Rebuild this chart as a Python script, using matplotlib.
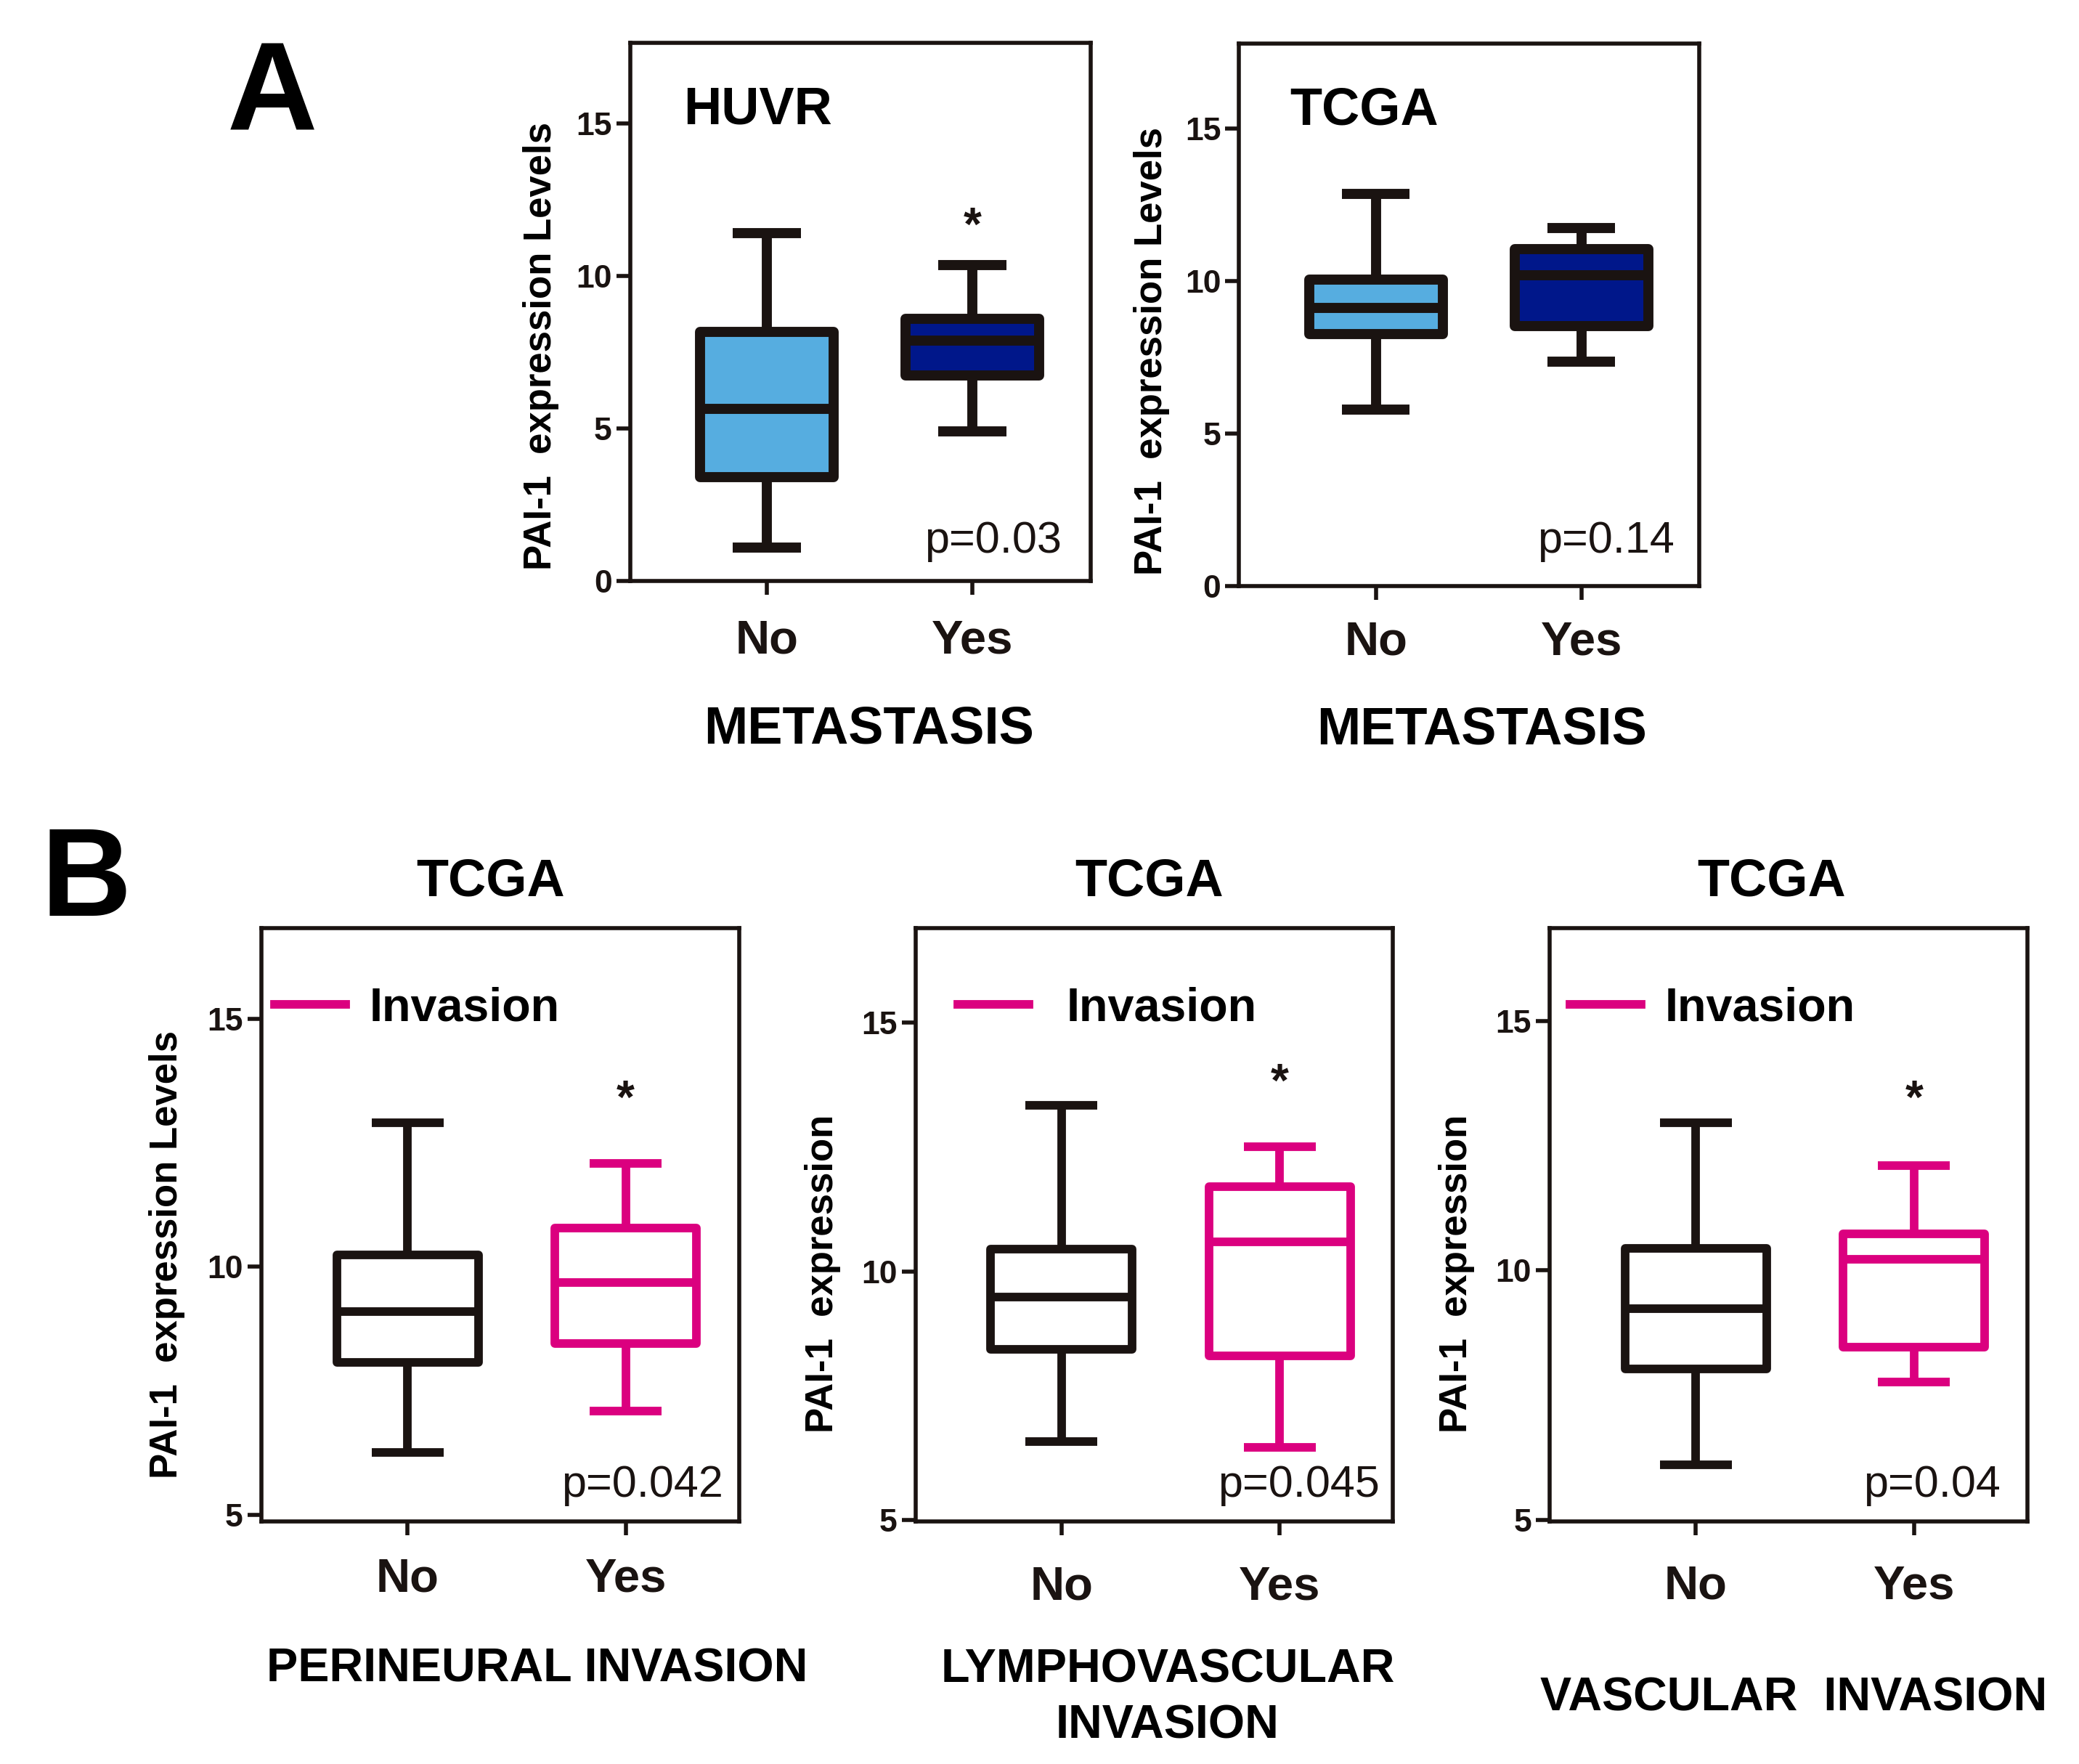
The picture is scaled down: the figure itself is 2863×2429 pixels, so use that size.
import matplotlib
matplotlib.use("Agg")
import matplotlib.pyplot as plt
from matplotlib.lines import Line2D

plt.rcParams['font.family'] = ['Liberation Sans', 'DejaVu Sans']

# five-number summaries: [whisker low, Q1, median, Q3, whisker high]
groups = ['No', 'Yes']

huvr_no = [1.1, 3.4, 5.65, 8.17, 11.4]
huvr_yes = [4.9, 6.74, 7.87, 8.6, 10.35]

tcga_met_no = [5.78, 8.26, 9.13, 10.04, 12.87]
tcga_met_yes = [7.35, 8.52, 10.2, 11.04, 11.74]

perineural_no = [6.26, 8.07, 9.09, 10.24, 12.91]
perineural_yes = [7.09, 8.45, 9.68, 10.78, 12.09]

lymphovascular_no = [6.58, 8.43, 9.48, 10.44, 13.34]
lymphovascular_yes = [6.45, 8.3, 10.6, 11.7, 12.5]

vascular_no = [6.1, 8.03, 9.24, 10.44, 12.96]
vascular_yes = [7.76, 8.46, 10.23, 10.74, 12.1]

p_values = ['p=0.03', 'p=0.14', 'p=0.042', 'p=0.045', 'p=0.04']
star_heights = [11.57, None, 13.35, 13.76, 13.4]

BLACK = '#1a1311'
LIGHT_BLUE = '#56ade0'
DARK_BLUE = '#00178a'
MAGENTA = '#db007f'


def to_stats(summary):
    lo, q1, med, q3, hi = summary
    return dict(whislo=lo, q1=q1, med=med, q3=q3, whishi=hi, fliers=[])


def draw_boxes(ax, summaries, faces, edges, lw):
    bp = ax.bxp([to_stats(s) for s in summaries], positions=[1, 2],
                widths=0.65, capwidths=0.33, patch_artist=True,
                showfliers=False, manage_ticks=False)
    for i, box in enumerate(bp['boxes']):
        box.set_facecolor(faces[i])
        box.set_edgecolor(edges[i])
        box.set_linewidth(lw)
        box.set_joinstyle('round')
        box.set_zorder(3)
        bp['medians'][i].set(color=edges[i], linewidth=lw, solid_capstyle='butt', zorder=4)
        for ln in bp['whiskers'][2 * i:2 * i + 2] + bp['caps'][2 * i:2 * i + 2]:
            ln.set(color=edges[i], linewidth=lw, solid_capstyle='butt', zorder=2)


def style_axes(ax, ylim, yticks, ylabel, ylabel_pos, xpad=18):
    ax.set_xlim(0.33, 2.55)
    ax.set_ylim(*ylim)
    ax.set_yticks(yticks)
    ax.set_xticks([1, 2])
    ax.set_xticklabels(groups, fontsize=47, fontweight='bold')
    for lab in ax.get_yticklabels():
        lab.set_fontsize(32)
        lab.set_fontweight('bold')
    for sp in ax.spines.values():
        sp.set_linewidth(4)
        sp.set_color(BLACK)
    ax.tick_params(axis='y', length=14, width=4, pad=4, colors=BLACK)
    ax.tick_params(axis='x', length=14, width=4, pad=xpad, colors=BLACK)
    ax.set_ylabel(ylabel, fontsize=38, fontweight='bold', va='center')
    ax.yaxis.set_label_coords(*ylabel_pos)


fig = plt.figure(figsize=(28.63, 24.29), dpi=100)

# ---------------- panel A ----------------
ax1 = fig.add_axes([0.3031, 0.6707, 0.2214, 0.3052])
draw_boxes(ax1, [huvr_no, huvr_yes], [LIGHT_BLUE, DARK_BLUE], [BLACK, BLACK], 10)
style_axes(ax1, (0, 17.65), [0, 5, 10, 15], 'PAI-1  expression Levels', (-0.193, 0.436), xpad=24)
ax1.set_xlim(0.335, 2.574)
ax1.text(0.115, 0.874, 'HUVR', transform=ax1.transAxes, fontsize=52,
         fontweight='bold', va='center', ha='left')
ax1.set_xlabel('METASTASIS', fontsize=52, fontweight='bold', va='center')
ax1.xaxis.set_label_coords(0.519, -0.276)

ax2 = fig.add_axes([0.5960, 0.6677, 0.2214, 0.3075])
draw_boxes(ax2, [tcga_met_no, tcga_met_yes], [LIGHT_BLUE, DARK_BLUE], [BLACK, BLACK], 10)
style_axes(ax2, (0, 17.78), [0, 5, 10, 15], 'PAI-1  expression Levels', (-0.19, 0.433), xpad=20)
ax2.set_xlim(0.335, 2.574)
ax2.text(0.11, 0.877, 'TCGA', transform=ax2.transAxes, fontsize=52,
         fontweight='bold', va='center', ha='left')
ax2.set_xlabel('METASTASIS', fontsize=52, fontweight='bold', va='center')
ax2.xaxis.set_label_coords(0.527, -0.265)

# ---------------- panel B ----------------
b_specs = [
    ([0.1257, 0.1376, 0.2298, 0.3361], [perineural_no, perineural_yes], (4.87, 16.82),
     'PAI-1  expression Levels', (-0.197, 0.45), 'PERINEURAL INVASION', (0.578, -0.249),
     0.48, (0.028, 0.865), 0.5, 22),
    ([0.4403, 0.1376, 0.2298, 0.3361], [lymphovascular_no, lymphovascular_yes], (4.97, 16.9),
     'PAI-1  expression', (-0.194, 0.418), 'LYMPHOVASCULAR\nINVASION', (0.528, -0.298),
     0.489, (0.089, 0.865), 0.8, 30),
    ([0.7454, 0.1376, 0.2298, 0.3361], [vascular_no, vascular_yes], (4.97, 16.86),
     'PAI-1  expression', (-0.194, 0.418), 'VASCULAR  INVASION', (0.511, -0.298),
     0.464, (0.042, 0.865), 0.5, 29),
]

b_axes = []
for rect, data, ylim, ylab, ylab_pos, xlab, xlab_pos, tx, leg_pos, tpad, xpad in b_specs:
    ax = fig.add_axes(rect)
    draw_boxes(ax, data, ['white', 'white'], [BLACK, MAGENTA], 8.5)
    style_axes(ax, ylim, [5, 10, 15], ylab, ylab_pos, xpad=xpad)
    ax.set_xlim(0.33, 2.52)
    ax.set_xlabel(xlab, fontsize=46.5, fontweight='bold', va='center', linespacing=1.35)
    ax.xaxis.set_label_coords(*xlab_pos)
    ax.text(tx, 1.078, 'TCGA', transform=ax.transAxes, fontsize=52,
            fontweight='bold', ha='center', va='center')
    handle = Line2D([], [], color=MAGENTA, linewidth=8.5)
    ax.legend([handle], ['Invasion'], loc='center left', bbox_to_anchor=leg_pos,
              frameon=False, borderpad=0, borderaxespad=0, handlelength=1.52,
              handletextpad=tpad, prop=dict(size=46.5, weight='bold'))
    b_axes.append(ax)

all_axes = [ax1, ax2] + b_axes
p_pos = [(0.937, 0.074), (0.945, 0.083), (0.967, 0.06), (0.972, 0.06), (0.944, 0.06)]
for ax, p, pos, sh in zip(all_axes, p_values, p_pos, star_heights):
    ax.text(pos[0], pos[1], p, transform=ax.transAxes, fontsize=44,
            ha='right', va='center', color=BLACK)
    if sh is not None:
        ax.text(2, sh, '*', fontsize=46, fontweight='bold', ha='center',
                va='center', color=BLACK)

fig.text(0.1308, 0.9448, 'A', fontsize=124, fontweight='bold', ha='center', va='center')
fig.text(0.0415, 0.4992, 'B', fontsize=124, fontweight='bold', ha='center', va='center')

fig.savefig('out.png', dpi=100, facecolor='white')
